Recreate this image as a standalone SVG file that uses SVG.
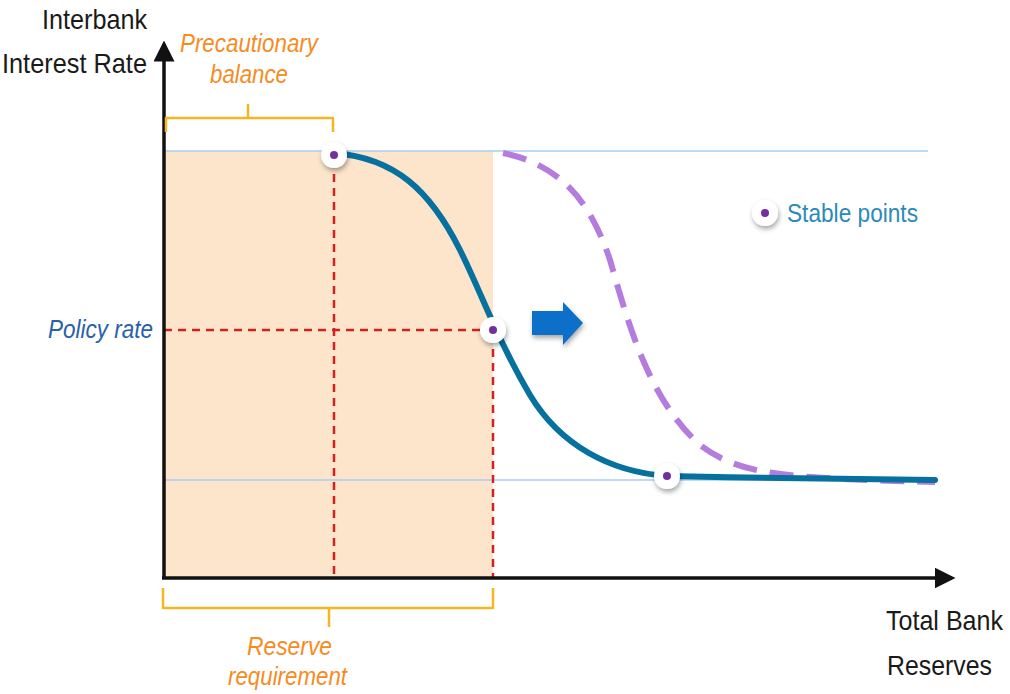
<svg xmlns="http://www.w3.org/2000/svg" width="1010" height="694" viewBox="0 0 1010 694">
<defs>
<style>
.lbl{font-family:"Liberation Sans",Arial,sans-serif;font-size:28px;fill:#1a1a1a}
.org{font-family:"Liberation Sans",Arial,sans-serif;font-size:25px;font-style:italic;fill:#f68b1f}
.brk{fill:none;stroke:#f5b623;stroke-width:2.5;stroke-linejoin:round}
.red{fill:none;stroke:#d42020;stroke-width:2.5;stroke-dasharray:8,6}
.ref{stroke:#a9cdf0;stroke-width:1.5}
.axis{stroke:#111;stroke-width:3.5;fill:none}
</style>
<filter id="sh" x="-50%" y="-50%" width="200%" height="200%">
<feDropShadow dx="1" dy="3" stdDeviation="2.5" flood-color="#000" flood-opacity="0.35"/>
</filter>
<marker id="ah" markerWidth="6" markerHeight="6" refX="5" refY="3" orient="auto" markerUnits="strokeWidth">
<path d="M0,0 L6,3 L0,6 z" fill="#111"/>
</marker>
<g id="pt">
<circle r="13" fill="#fff" filter="url(#sh)"/>
<circle r="4" fill="#7030a0"/>
</g>
</defs>
<rect width="1010" height="694" fill="#fff"/>
<g id="shade"><rect x="164" y="151" width="329" height="427" fill="#fde5cc"/></g>
<g id="refs">
<line class="ref" x1="164" y1="151" x2="928" y2="151"/>
<line class="ref" x1="164" y1="480" x2="930" y2="480"/>
</g>
<g id="connectors">
<line class="red" x1="334" y1="160" x2="334" y2="578"/>
<line class="red" x1="493" y1="335" x2="493" y2="578"/>
<line class="red" x1="164" y1="330" x2="490" y2="330"/>
<path d="M503,153 C560,165 590,200 610,260 C630,330 650,400 700,445 C740,475 780,478 935,482" fill="none" stroke="#b57ce0" stroke-width="6" stroke-dasharray="24,13"/>
<path d="M334,153 C395,158 430,190 460,250 C480,290 500,345 530,395 C560,445 610,472 667,476 C760,478 860,479 935,480" fill="none" stroke="#06709e" stroke-width="6" stroke-linecap="round"/>
<line class="axis" x1="164" y1="578" x2="164" y2="44" marker-end="url(#ah)"/>
<line class="axis" x1="162" y1="578" x2="952" y2="578" marker-end="url(#ah)"/>
</g>
<g id="brackets">
<path class="brk" d="M166,132 L166,118 L333,118 L333,132 M248,118 L248,104"/>
<path class="brk" d="M163,588 L163,608 L493,608 L493,588 M329,608 L329,627"/>
</g>
<g id="shift-arrow"><path d="M532,311 L563,311 L563,302 L583,323 L563,345 L563,335 L532,335 z" fill="#0a6fc8" filter="url(#sh)"/></g>
<g id="p1"><use href="#pt" x="334" y="155"/></g>
<g id="p2"><use href="#pt" x="493" y="330"/></g>
<g id="p3"><use href="#pt" x="667" y="476"/></g>
<g id="legend">
<use href="#pt" x="765" y="213"/>
<text x="787" y="222" font-family="Liberation Sans,Arial,sans-serif" font-size="25" fill="#2a8bb8" textLength="131" lengthAdjust="spacingAndGlyphs">Stable points</text>
</g>
<g id="labels">
<text class="lbl" x="147" y="29" text-anchor="end" textLength="105" lengthAdjust="spacingAndGlyphs">Interbank</text>
<text class="lbl" x="147" y="73" text-anchor="end" textLength="145" lengthAdjust="spacingAndGlyphs">Interest Rate</text>
<text class="org" x="180" y="52" textLength="138" lengthAdjust="spacingAndGlyphs">Precautionary</text>
<text class="org" x="210" y="83" textLength="78" lengthAdjust="spacingAndGlyphs">balance</text>
<text x="153" y="338" text-anchor="end" font-family="Liberation Sans,Arial,sans-serif" font-size="25" font-style="italic" fill="#2860aa" textLength="105" lengthAdjust="spacingAndGlyphs">Policy rate</text>
<text class="org" x="247" y="655" textLength="85" lengthAdjust="spacingAndGlyphs">Reserve</text>
<text class="org" x="228" y="685" textLength="119" lengthAdjust="spacingAndGlyphs">requirement</text>
<text class="lbl" x="1003" y="630" text-anchor="end" textLength="117" lengthAdjust="spacingAndGlyphs">Total Bank</text>
<text class="lbl" x="992" y="675" text-anchor="end" textLength="105" lengthAdjust="spacingAndGlyphs">Reserves</text>
</g>
</svg>
